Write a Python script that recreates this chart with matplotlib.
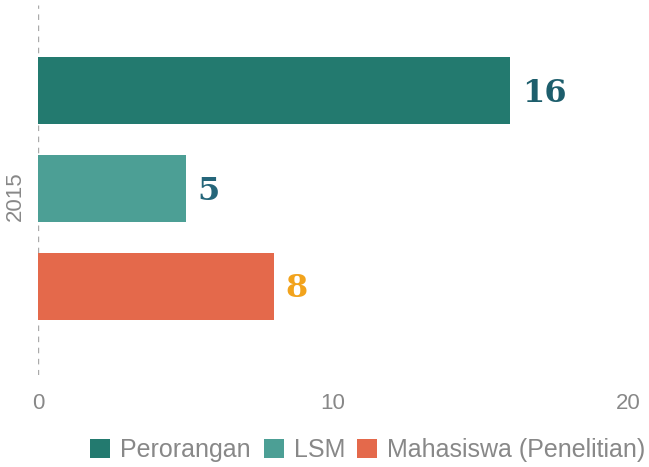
import matplotlib
matplotlib.use("Agg")
import matplotlib.pyplot as plt
from matplotlib.patches import Patch

categories = ["Perorangan", "LSM", "Mahasiswa (Penelitian)"]
values = [16, 5, 8]
year_label = "2015"
xticks = [0, 10, 20]
bar_colors = ["#237a6f", "#4c9f95", "#e4694b"]
label_colors = ["#1d5e6c", "#25667a", "#f2a31c"]

plt.rcParams["font.family"] = ["Liberation Sans", "DejaVu Sans"]

fig = plt.figure(figsize=(6.49, 4.67), dpi=100)
W, H = 649, 467
ax = fig.add_axes([38 / W, 1 - 375 / H, (628 - 38) / W, (375 - 5) / H])

ypos = list(range(len(categories)))
ax.barh(ypos, values, height=0.685, color=bar_colors)
ax.set_ylim(2.91, -0.875)
ax.set_xlim(0, 20)

for y, v, c in zip(ypos, values, label_colors):
    ax.text(v + 0.4, y + 0.03, str(v), va="center", ha="left", color=c,
            fontsize=23, fontweight="bold", family="DejaVu Serif")

for s in ax.spines.values():
    s.set_visible(False)
ax.axvline(0, color="#aaaaaa", lw=1, ls=(0, (4, 4)), zorder=0)
ax.set_yticks([])
ax.set_xticks(xticks)
ax.set_xticklabels([str(t) for t in xticks], color="#888888", fontsize=16)
ax.tick_params(axis="x", length=0, pad=13)

fig.text(15 / W, 1 - 196 / H, year_label, rotation=90, ha="center", va="center",
         color="#888888", fontsize=16)

handles = [Patch(facecolor=c, edgecolor="none") for c in bar_colors]
fig.legend(handles, categories, loc="center", bbox_to_anchor=(368 / W, 1 - 450 / H),
           ncol=3, frameon=False, fontsize=18, labelcolor="#888888",
           handlelength=0.8, handleheight=0.8, handletextpad=0.4, columnspacing=0.5,
           borderpad=0, borderaxespad=0)

fig.savefig("out.png", dpi=100)
